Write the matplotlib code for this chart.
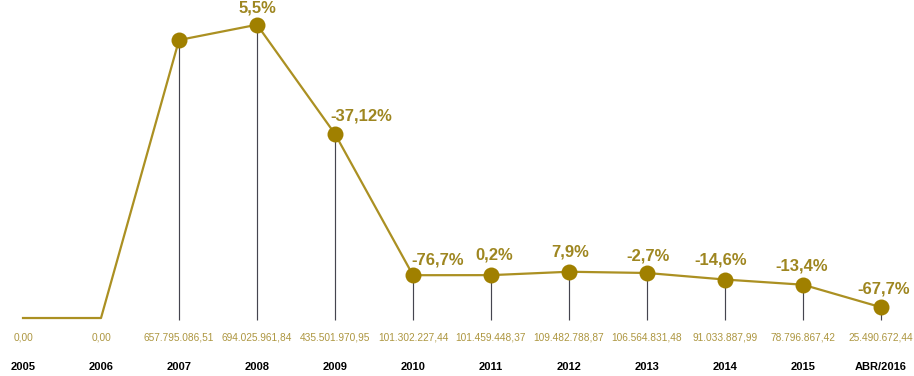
import matplotlib
matplotlib.use("Agg")
import matplotlib.pyplot as plt

years = ["2005", "2006", "2007", "2008", "2009", "2010", "2011", "2012",
         "2013", "2014", "2015", "ABR/2016"]
values = [0.00, 0.00, 657795086.51, 694025961.84, 435501970.95, 101302227.44,
          101459448.37, 109482788.87, 106564831.48, 91033887.99, 78796867.42,
          25490672.44]
value_labels = ["0,00", "0,00", "657.795.086,51", "694.025.961,84", "435.501.970,95",
                "101.302.227,44", "101.459.448,37", "109.482.788,87", "106.564.831,48",
                "91.033.887,99", "78.796.867,42", "25.490.672,44"]
pct_labels = [None, None, None, "5,5%", "-37,12%", "-76,7%", "0,2%", "7,9%",
              "-2,7%", "-14,6%", "-13,4%", "-67,7%"]

# label offsets in points (styling)
pct_offsets = {3: (0, 6.5), 4: (19, 7.5), 5: (18, 5.5), 6: (2, 9), 7: (1, 9),
               8: (1, 7), 9: (-3, 9), 10: (-1, 8), 11: (2, 8)}

plt.rcParams['font.family'] = ['Liberation Sans', 'DejaVu Sans']

fig = plt.figure(figsize=(9.14, 3.76), dpi=100)
ax = fig.add_axes([0, 0, 1, 1])
ax.set_axis_off()

vals_m = [v / 1e6 for v in values]
x = list(range(len(years)))

line_col = "#ab9022"
mark_col = "#a08000"
text_col = "#9e8620"
val_col = "#ad9640"

ax.set_xlim(-0.295, 11.423)
ax.set_ylim(-137.2, 752.5)

# stems
for i in range(2, len(x)):
    ax.vlines(x[i], -5, vals_m[i], color="#45454f", lw=0.85, zorder=1)

ax.plot(x, vals_m, color=line_col, lw=1.6, zorder=2)
ax.plot(x[2:], vals_m[2:], 'o', color=mark_col, ms=11.5, zorder=3, markeredgewidth=0)

for i, lab in enumerate(pct_labels):
    if lab is None:
        continue
    dx, dy = pct_offsets[i]
    ax.annotate(lab, (x[i], vals_m[i]), xytext=(dx, dy), textcoords="offset points",
                ha="center", va="bottom", fontsize=12, fontweight="bold", color=text_col)

trans = ax.get_xaxis_transform()
for i in range(len(x)):
    ax.text(x[i], 1 - 338 / 376, value_labels[i], transform=trans, ha="center",
            va="center", fontsize=7.3, color=val_col)
    ax.text(x[i], 1 - 367 / 376, years[i], transform=trans, ha="center",
            va="center", fontsize=8, fontweight="bold", color="black")

fig.savefig("out.png", dpi=100, facecolor="white")
